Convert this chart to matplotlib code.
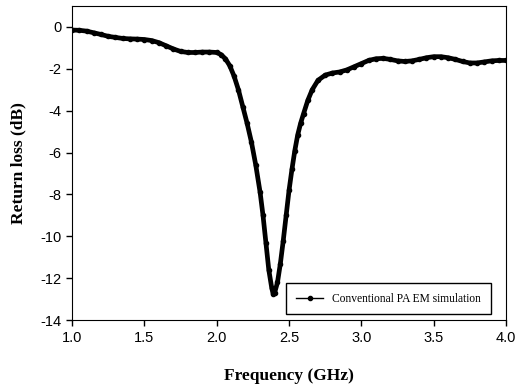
import matplotlib
matplotlib.use('Agg')
import matplotlib.pyplot as plt

# frequency (GHz) and return loss (dB)
freq = [1.00, 1.05, 1.10, 1.15, 1.20, 1.25, 1.30, 1.35, 1.40, 1.45,
        1.50, 1.55, 1.60, 1.65, 1.70, 1.75, 1.80, 1.85, 1.90, 1.95,
        2.00, 2.03, 2.06, 2.09, 2.12, 2.15, 2.18, 2.21, 2.24, 2.27,
        2.30, 2.32, 2.34, 2.36, 2.38, 2.39, 2.40, 2.42, 2.44, 2.46,
        2.48, 2.50, 2.52, 2.54, 2.56, 2.58, 2.60, 2.63, 2.66, 2.70,
        2.75, 2.80, 2.85, 2.90, 2.95, 3.00, 3.05, 3.10, 3.15, 3.20,
        3.25, 3.30, 3.35, 3.40, 3.45, 3.50, 3.55, 3.60, 3.65, 3.70,
        3.75, 3.80, 3.85, 3.90, 3.95, 4.00]
rl = [-0.15, -0.16, -0.20, -0.28, -0.36, -0.45, -0.50, -0.55, -0.57, -0.58,
      -0.60, -0.65, -0.75, -0.90, -1.05, -1.17, -1.22, -1.22, -1.20, -1.20,
      -1.22, -1.32, -1.52, -1.85, -2.35, -3.00, -3.80, -4.60, -5.50, -6.60,
      -7.90, -9.00, -10.30, -11.60, -12.45, -12.75, -12.70, -12.20, -11.30, -10.20,
      -9.00, -7.80, -6.80, -5.90, -5.15, -4.60, -4.15, -3.50, -3.00, -2.55,
      -2.30, -2.20, -2.15, -2.05, -1.90, -1.75, -1.60, -1.52, -1.50, -1.55,
      -1.62, -1.65, -1.62, -1.55, -1.47, -1.42, -1.42, -1.47, -1.55, -1.65,
      -1.72, -1.72, -1.67, -1.62, -1.60, -1.60]

xticks = [1.0, 1.5, 2.0, 2.5, 3.0, 3.5, 4.0]
yticks = [0, -2, -4, -6, -8, -10, -12, -14]

fig = plt.figure(figsize=(5.15, 3.89), dpi=100)
ax = fig.add_axes([0.14, 0.177, 0.8425, 0.8076])

ax.plot(freq, rl, color='black', lw=3.4, marker='o', ms=3,
        label='Conventional PA EM simulation')

ax.set_xlim(1.0, 4.0)
ax.set_ylim(-14, 1)
ax.set_xticks(xticks)
ax.set_xticklabels(['%.1f' % t for t in xticks], family='Liberation Sans', fontsize=10.5)
ax.set_yticks(yticks)
ax.set_yticklabels([str(t) for t in yticks], family='Liberation Sans', fontsize=10.5)
ax.tick_params(direction='out', length=4, width=1)

ax.set_xlabel('Frequency (GHz)', family='Liberation Serif', fontweight='bold',
              fontsize=12.5, labelpad=17)
ax.set_ylabel('Return loss (dB)', family='Liberation Serif', fontweight='bold',
              fontsize=12.5, labelpad=10)

leg = ax.legend(loc='lower right', prop={'family': 'Liberation Serif', 'size': 8.3},
                fancybox=False, edgecolor='black', framealpha=1,
                handlelength=2.3, borderpad=0.85, bbox_to_anchor=(0.978, 0.0))
for h in leg.legend_handles:
    h.set_linewidth(1)
    h.set_markersize(3)
leg.get_frame().set_linewidth(1)

fig.savefig('out.png', dpi=100)
